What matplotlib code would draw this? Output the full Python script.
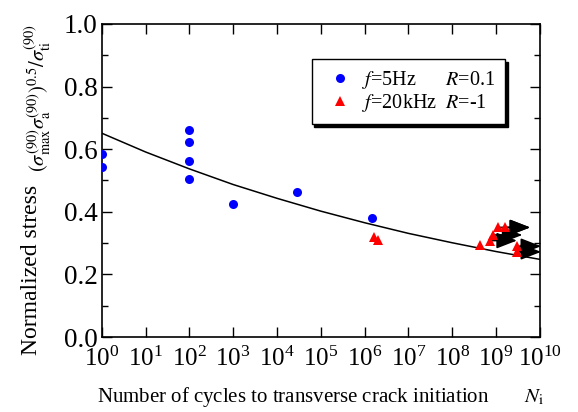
import numpy as np
import matplotlib
matplotlib.use("Agg")
import matplotlib.pyplot as plt
from matplotlib.ticker import FixedLocator, MultipleLocator, FormatStrFormatter, NullLocator

plt.rcParams['font.family'] = ['Liberation Serif', 'DejaVu Serif']
plt.rcParams['mathtext.fontset'] = 'stix'

# ---- data ----
blue_N = [1, 1, 100, 100, 100, 100, 1000, 2.9e4, 1.45e6]
blue_S = [0.585, 0.543, 0.661, 0.623, 0.563, 0.504, 0.424, 0.464, 0.381]

red_N = [1.66e6, 2.0e6, 4.3e8, 7.4e8, 8.7e8, 1.12e9, 1.62e9, 2.95e9, 2.95e9]
red_S = [0.320, 0.310, 0.294, 0.308, 0.326, 0.350, 0.350, 0.290, 0.272]

# run-outs (arrows): start N, stress, end N
run_N = [7.4e8, 8.7e8, 1.12e9, 1.62e9, 2.95e9, 2.95e9]
run_S = [0.308, 0.326, 0.350, 0.350, 0.290, 0.272]
run_end_N = [3.0e9, 4.0e9, 6.0e9, 6.0e9, 1.07e10, 1.07e10]

# fitted curve read at each decade
curve_N = [1e0, 1e1, 1e2, 1e3, 1e4, 1e5, 1e6, 1e7, 1e8, 1e9, 1e10]
curve_S = [0.651, 0.591, 0.537, 0.487, 0.443, 0.402, 0.365, 0.331, 0.301, 0.273, 0.248]

xticks = [10.0**k for k in range(0, 11)]
yticks = [0.0, 0.2, 0.4, 0.6, 0.8, 1.0]

fig = plt.figure(figsize=(5.78, 4.12), dpi=100)
ax = fig.add_axes([0.176, 0.182, 0.758, 0.760])

ax.plot(curve_N, curve_S, color='black', lw=1.1, zorder=2)
for n0, s0, n1 in zip(run_N, run_S, run_end_N):
    ax.annotate('', xy=(n1, s0), xytext=(n0, s0), annotation_clip=False,
                arrowprops=dict(arrowstyle='-|>,head_length=0.9,head_width=0.35',
                                mutation_scale=14, color='black', lw=1.2,
                                shrinkA=0, shrinkB=0), zorder=3)
h1, = ax.plot(blue_N, blue_S, 'o', color='#0000ff', ms=6.5, mew=0, ls='none', zorder=4,
              label='$f$=5Hz      $R$=0.1')
h2, = ax.plot(red_N, red_S, '^', color='#ff0000', ms=7, mew=0, ls='none', zorder=4,
              label='$f$=20kHz  $R$=-1')

ax.set_xscale('log')
ax.set_xlim(1, 1e10)
ax.set_ylim(0, 1.0)
ax.xaxis.set_major_locator(FixedLocator(xticks))
ax.xaxis.set_minor_locator(NullLocator())
ax.yaxis.set_major_locator(FixedLocator(yticks))
ax.yaxis.set_minor_locator(MultipleLocator(0.1))
ax.yaxis.set_major_formatter(FormatStrFormatter('%.1f'))

ax.tick_params(axis='both', which='both', direction='in', top=True, right=True, width=1.0)
ax.tick_params(axis='x', which='major', length=7, labelsize=18, pad=7)
ax.tick_params(axis='y', which='major', length=7, labelsize=19.5, pad=3)
ax.tick_params(axis='y', which='minor', length=4)
for sp in ax.spines.values():
    sp.set_linewidth(1.2)

ax.set_xlabel('Number of cycles to transverse crack initiation       $N_{\\rm i}$',
              fontsize=15, labelpad=10)
fig.text(0.054, 0.345, 'Normalized stress', rotation=90, ha='center', va='center', fontsize=17)
fig.text(0.066, 0.761, '$(\\sigma_{\\rm max}^{(90)}\\sigma_{\\rm a}^{(90)})^{0.5}/\\sigma_{\\rm ti}^{(90)}$',
         rotation=90, ha='center', va='center', fontsize=14.8)

leg = ax.legend(handles=[h1, h2], loc='upper left', bbox_to_anchor=(0.479, 0.888),
                fontsize=14.5, frameon=True, fancybox=False, shadow={'color': 'black', 'alpha': 1},
                borderaxespad=0, borderpad=0.5, handlelength=1.8, handletextpad=0.2,
                labelspacing=0.05)
leg.get_frame().set_edgecolor('black')
leg.get_frame().set_linewidth(1.0)
leg.get_frame().set_alpha(1)

fig.savefig('out.png', dpi=100)
